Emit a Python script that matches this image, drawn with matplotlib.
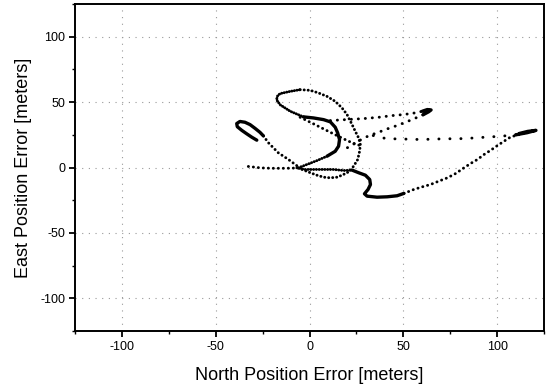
import numpy as np
import matplotlib
matplotlib.use("Agg")
import matplotlib.pyplot as plt
from matplotlib.ticker import MultipleLocator

plt.rcParams['font.family'] = ['Liberation Sans', 'DejaVu Sans']
plt.rcParams['axes.unicode_minus'] = False

# --- trajectory pieces (north, east) in meters ---
# slow parts are drawn solid, faster parts as dots (dot gap in pixels)
left_tail_n = [-32.6, -26.0, -20.0, -13.0, -6.7]
left_tail_e = [0.8, -0.3, -0.6, -0.6, -0.4]

teardrop_n = [-28.1, -30.8, -33.5, -36.1, -38.5, -38.8, -37.1, -34.4, -31.7, -29.0, -26.4, -24.6]
teardrop_e = [20.9, 23.2, 25.8, 28.4, 31.2, 33.6, 35.2, 34.6, 32.8, 29.9, 26.9, 24.2]

tear_return_n = [-24.6, -21.9, -16.6, -11.2, -5.9]
tear_return_e = [24.2, 18.9, 11.2, 6.1, 0.5]

base_n = [-6.7, -2.3, 2.1, 7.5, 12.8, 18.2, 22.7]
base_e = [-0.2, -1.5, -1.5, -1.5, -1.5, -2.3, -2.0]

dip_n = [22.7, 26.2, 29.8, 32.1, 32.5, 31.2, 29.3, 30.7, 36.0, 41.4, 46.7, 50.3]
dip_e = [-2.0, -4.0, -5.9, -9.2, -13.0, -16.8, -20.1, -21.9, -22.7, -22.4, -21.6, -19.8]

rise_n = [50.3, 55.6, 60.1, 64.5, 69.0, 73.5, 77.9, 82.4, 85.9, 89.5, 93.0, 96.6,
          100.2, 103.7, 107.3, 111.8, 116.3]
rise_e = [-19.8, -16.8, -14.8, -13.0, -10.4, -7.9, -4.6, -0.2, 3.1, 6.1, 9.9, 13.2,
          16.8, 20.1, 23.4, 25.2, 27.0]

right_tip_n = [111.8, 116.3, 120.7, 116.0, 110.0]
right_tip_e = [26.0, 27.6, 28.4, 26.6, 25.0]

flat_n = [110.0, 102.0, 93.0, 82.4, 70.8, 59.2, 46.7, 41.4, 34.2, 28.9]
flat_e = [25.0, 23.9, 23.1, 22.1, 21.9, 21.4, 21.9, 21.9, 24.4, 24.4]

c_low_n = [-5.9, -1.4, 4.0, 9.3]
c_low_e = [-0.2, 2.3, 5.3, 8.6]

c_up_n = [9.3, 13.7, 15.5, 16.0, 15.0, 13.7, 11.1, 7.5, 2.1, -3.2]
c_up_e = [8.6, 12.4, 16.3, 21.4, 26.5, 30.8, 34.9, 36.6, 37.9, 38.7]

to_tip_n = [11.1, 18.0, 28.9, 36.9, 44.1, 50.3, 56.5, 60.1]
to_tip_e = [35.9, 36.5, 37.4, 38.4, 39.7, 40.5, 41.8, 43.0]

mid_tip_n = [60.1, 62.8, 64.8, 63.5, 60.5]
mid_tip_e = [43.0, 44.3, 44.0, 42.6, 40.3]

from_tip_n = [60.5, 55.6, 51.2, 46.7, 41.4, 36.9, 33.4, 28.9, 21.8, 18.2]
from_tip_e = [40.3, 37.2, 34.6, 32.1, 29.5, 27.0, 25.2, 22.6, 16.3, 13.7]

diag_n = [-5.0, 2.1, 7.5, 12.8, 18.2, 22.7, 28.0]
diag_e = [38.4, 33.4, 29.5, 25.7, 21.9, 18.9, 16.3]

loop_bend_n = [-3.2, -10.3, -15.7, -17.6, -17.0, -15.7, -10.3, -5.0]
loop_bend_e = [38.7, 43.0, 48.0, 51.9, 54.8, 56.5, 58.2, 59.5]

loop_n = [-5.0, 0.4, 4.8, 9.3, 13.7, 17.3, 20.0, 20.9, 22.7, 24.4, 26.2, 27.1,
          26.7, 25.7, 23.5, 21.8, 20.0, 17.3, 14.7, 11.1, 7.5, 4.0, 0.4, -3.0, -6.0]
loop_e = [59.5, 59.0, 57.0, 54.4, 50.6, 45.6, 40.5, 37.9, 32.8, 27.7, 22.6, 17.6,
          12.4, 6.1, 1.0, -2.3, -4.0, -5.9, -7.4, -7.9, -7.4, -5.9, -4.0, -2.0, -0.5]

solid_parts = [(teardrop_n, teardrop_e), (dip_n, dip_e), (c_up_n, c_up_e),
               (right_tip_n, right_tip_e), (mid_tip_n, mid_tip_e)]
dotted_parts = [(left_tail_n, left_tail_e, 5.0), (tear_return_n, tear_return_e, 4.5),
                (base_n, base_e, 2.8), (c_low_n, c_low_e, 2.8),
                (rise_n, rise_e, 5.0), (flat_n, flat_e, 11.0),
                (to_tip_n, to_tip_e, 7.0), (from_tip_n, from_tip_e, 7.5),
                (diag_n, diag_e, 5.0), (loop_bend_n, loop_bend_e, 2.6),
                (loop_n, loop_e, 4.0)]

fig = plt.figure(figsize=(5.52, 3.86), dpi=100)
ax = fig.add_axes([0.1359, 0.1425, 0.8496, 0.8471])

DOT_LW = 2.1
PX = 0.72  # points per pixel at 100 dpi

for n, e in solid_parts:
    ax.plot(n, e, color='black', lw=2.4, solid_capstyle='round',
            solid_joinstyle='round')

for n, e, gap in dotted_parts:
    off = gap * PX / DOT_LW - 0.05
    ax.plot(n, e, color='black', lw=DOT_LW, linestyle=(0, (0.05, off)),
            dash_capstyle='round')

ax.set_xlim(-125, 125)
ax.set_ylim(-125, 125)
ax.xaxis.set_major_locator(MultipleLocator(50))
ax.yaxis.set_major_locator(MultipleLocator(50))
ax.xaxis.set_minor_locator(MultipleLocator(25))
ax.yaxis.set_minor_locator(MultipleLocator(25))

ax.grid(True, which='major', color='0.6', linestyle=(0, (1, 5)), lw=0.8)
ax.set_axisbelow(True)

for sp in ax.spines.values():
    sp.set_linewidth(1.4)
ax.tick_params(which='major', direction='out', length=4, width=1.3,
               labelsize=9, pad=3)
ax.tick_params(which='minor', direction='out', length=2.5, width=1.0)

ax.set_xlabel('North Position Error [meters]', fontsize=13)
ax.set_ylabel('East Position Error [meters]', fontsize=13)
ax.xaxis.set_label_coords(0.5, -0.11)
ax.yaxis.set_label_coords(-0.092, 0.5)

fig.savefig('out.png', dpi=100, facecolor='white')
